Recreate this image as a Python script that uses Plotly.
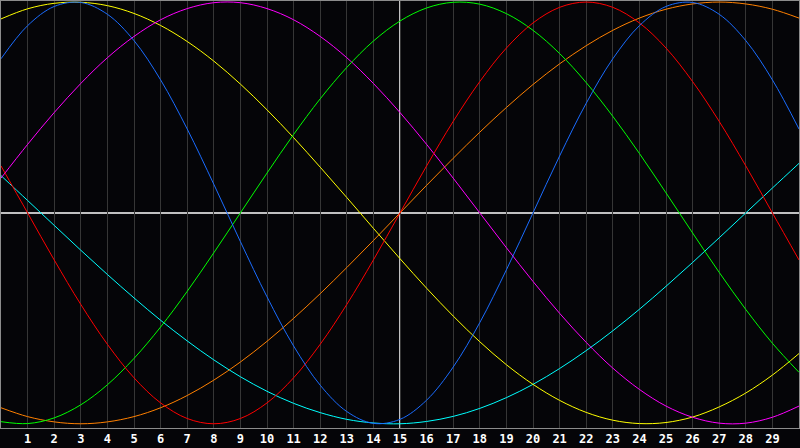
import plotly.graph_objects as go

# Biorhythm chart, 30 days, today in the middle (day 15)

days = list(range(0, 31))
tick_days = list(range(1, 30))
tick_labels = [str(d) for d in tick_days]
today = 15

# cycle values, one per day (-1 .. 1)
physical = [0.731, 0.888, 0.979, 0.998, 0.942, 0.817, 0.631, 0.398, 0.136, -0.136,
            -0.398, -0.631, -0.817, -0.942, -0.998, -0.979, -0.888, -0.731, -0.520, -0.270,
            0.000, 0.270, 0.520, 0.731, 0.888, 0.979, 0.998, 0.942, 0.817, 0.631, 0.398]
emotional = [0.223, 0.000, -0.223, -0.434, -0.623, -0.782, -0.901, -0.975, -1.000, -0.975,
             -0.901, -0.782, -0.623, -0.434, -0.223, 0.000, 0.223, 0.434, 0.623, 0.782,
             0.901, 0.975, 1.000, 0.975, 0.901, 0.782, 0.623, 0.434, 0.223, 0.000, -0.223]
intellectual = [-0.990, -0.999, -0.972, -0.910, -0.815, -0.690, -0.541, -0.372, -0.189, 0.000,
                0.189, 0.372, 0.541, 0.690, 0.815, 0.910, 0.972, 0.999, 0.990, 0.945,
                0.866, 0.756, 0.618, 0.458, 0.282, 0.095, -0.095, -0.282, -0.458, -0.618, -0.756]
intuitive = [0.165, 0.325, 0.476, 0.614, 0.736, 0.837, 0.916, 0.969, 0.997, 0.997,
             0.969, 0.916, 0.837, 0.736, 0.614, 0.476, 0.325, 0.165, 0.000, -0.165,
             -0.325, -0.476, -0.614, -0.736, -0.837, -0.916, -0.969, -0.997, -0.997, -0.969, -0.916]
aesthetic = [0.920, 0.968, 0.994, 0.999, 0.983, 0.946, 0.889, 0.813, 0.720, 0.611,
             0.489, 0.357, 0.217, 0.073, -0.073, -0.217, -0.357, -0.489, -0.611, -0.720,
             -0.813, -0.889, -0.946, -0.983, -0.999, -0.994, -0.968, -0.920, -0.854, -0.769, -0.667]
awareness = [-0.924, -0.966, -0.991, -1.000, -0.991, -0.966, -0.924, -0.866, -0.793, -0.707,
             -0.609, -0.500, -0.383, -0.259, -0.131, 0.000, 0.131, 0.259, 0.383, 0.500,
             0.609, 0.707, 0.793, 0.866, 0.924, 0.966, 0.991, 1.000, 0.991, 0.966, 0.924]
spiritual = [0.177, 0.059, -0.059, -0.177, -0.292, -0.403, -0.509, -0.607, -0.697, -0.777,
             -0.846, -0.903, -0.947, -0.979, -0.996, -1.000, -0.989, -0.965, -0.927, -0.876,
             -0.813, -0.738, -0.653, -0.559, -0.457, -0.348, -0.235, -0.118, 0.000, 0.118, 0.235]

cycles = [
    ("spiritual", spiritual, "#00FFFF"),
    ("awareness", awareness, "#FF8000"),
    ("aesthetic", aesthetic, "#FFFF00"),
    ("intuitive", intuitive, "#FF00FF"),
    ("intellectual", intellectual, "#00FF00"),
    ("emotional", emotional, "#FF0000"),
    ("physical", physical, "#1A6CFF"),
]

fig = go.Figure()
for name, vals, col in cycles:
    fig.add_trace(go.Scatter(x=days, y=vals, mode="lines", name=name,
                             line=dict(color=col, width=1, shape="spline"),
                             hoverinfo="skip"))

# white cross: today and the zero line
fig.add_shape(type="line", x0=today, x1=today, y0=0, y1=1, xref="x", yref="paper",
              line=dict(color="white", width=1.5), layer="between")
fig.add_shape(type="line", x0=0, x1=1, y0=0, y1=0, xref="paper", yref="y",
              line=dict(color="white", width=1.5), layer="between")

fig.update_layout(
    width=800, height=448,
    margin=dict(l=1, r=1, t=1, b=20),
    paper_bgcolor="#050508",
    plot_bgcolor="#050508",
    showlegend=False,
    hovermode=False,
)
fig.update_xaxes(range=[0, 30], tickvals=tick_days, ticktext=tick_labels,
                 showgrid=True, gridcolor="#363636", gridwidth=1,
                 showline=True, linecolor="#8c8c8c", linewidth=1, mirror=True,
                 ticks="", zeroline=False,
                 tickfont=dict(family="DejaVu Sans Mono", size=12, color="white", weight="bold"))
fig.update_yaxes(range=[-1.02, 1.005], showgrid=False, showticklabels=False,
                 showline=True, linecolor="#8c8c8c", linewidth=1, mirror=True,
                 ticks="", zeroline=False)

# drop the page margin so the chart sits at the window corner
fig.write_html("out.html", config={"displayModeBar": False},
               post_script="document.body.style.margin='0';document.body.style.background='#050508';")
